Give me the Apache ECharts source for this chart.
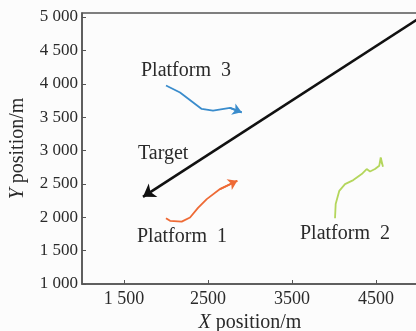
<!DOCTYPE html>
<html>
<head>
<meta charset="utf-8">
<script src="https://cdn.jsdelivr.net/npm/echarts@6/dist/echarts.min.js"></script>
<style>
  html, body { margin: 0; padding: 0; background: #fcfcfc; }
  #chart { width: 416px; height: 331px; }
</style>
</head>
<body>
<div id="chart"></div>
<script>
// Axis ticks and labels
const xTicks = [1500, 2500, 3500, 4500];
const xTickLabels = ['1 500', '2500', '3500', '4500'];
const yTicks = [1000, 1500, 2000, 2500, 3000, 3500, 4000, 4500, 5000];
const yTickLabels = ['1 000', '1 500', '2 000', '2 500', '3 000', '3 500', '4 000', '4 500', '5 000'];

// Target track (straight run, arrow at its end)
const targetTrack = [[5000, 4970], [1726, 2306]];

// Platform trajectories, [X, Y] in metres
const platform1 = [[2000, 1986], [2048, 1946], [2187, 1935], [2286, 1996], [2381, 2141],
                   [2485, 2272], [2643, 2422], [2849, 2547]];
const platform2 = [[4012, 1986], [4020, 2197], [4063, 2396], [4131, 2497], [4230, 2557],
                   [4330, 2647], [4389, 2722], [4429, 2686], [4488, 2722], [4539, 2772],
                   [4556, 2896], [4571, 2797], [4560, 2877], [4583, 2757]];
const platform3 = [[2000, 3973], [2167, 3868], [2425, 3623], [2560, 3598], [2762, 3638],
                   [2901, 3572]];

const FONT = 'Liberation Serif';
const TXT = '#2a2a2a';
const AX = '#555555';

function pathSeries(data, color, width) {
  return {
    type: 'line', data: data, showSymbol: false, symbol: 'none',
    lineStyle: { color: color, width: width }, silent: true, z: 3
  };
}
function arrowSeries(data, color, width, size) {
  const n = data.length;
  return {
    type: 'lines', coordinateSystem: 'cartesian2d',
    symbol: ['none', 'arrow'], symbolSize: size,
    lineStyle: { color: color, width: width, opacity: 1 },
    data: [{ coords: [data[n - 2], data[n - 1]] }], silent: true, z: 4
  };
}
function titleStyle() {
  return { fontFamily: FONT, fontSize: 20, color: TXT,
    rich: { i: { fontFamily: FONT, fontStyle: 'italic', fontSize: 20, color: TXT } } };
}
function note(text, left, top) {
  return { type: 'text', left: left, top: top,
    style: { text: text, font: '20px "Liberation Serif"', fill: TXT } };
}

const chart = echarts.init(document.getElementById('chart'));
chart.setOption({
  backgroundColor: '#fcfcfc',
  animation: false,
  grid: { left: 82, top: 13, right: -2, bottom: 47, containLabel: false, outerBoundsMode: 'none',
          show: true, borderColor: AX, borderWidth: 1.5 },
  xAxis: {
    type: 'value', min: 1000, max: 5000,
    name: '{i|X} position/m', nameLocation: 'middle', nameGap: 24,
    nameTextStyle: titleStyle(),
    axisLine: { show: true, lineStyle: { color: AX, width: 1.5 } },
    axisTick: { show: true, inside: true, length: 4, customValues: xTicks, lineStyle: { color: AX } },
    axisLabel: { customValues: xTicks, fontFamily: FONT, fontSize: 18, color: TXT, margin: 6,
      formatter: v => xTickLabels[xTicks.indexOf(v)] },
    splitLine: { show: false }
  },
  yAxis: {
    type: 'value', min: 1000, max: 5060,
    name: '{i|Y} position/m', nameLocation: 'middle', nameGap: 54, nameRotate: 90,
    nameTextStyle: titleStyle(),
    axisLine: { show: true, lineStyle: { color: AX, width: 1.5 } },
    axisTick: { show: true, inside: true, length: 4, customValues: yTicks, lineStyle: { color: AX } },
    axisLabel: { customValues: yTicks, fontFamily: FONT, fontSize: 17, color: TXT, margin: 4,
      formatter: v => yTickLabels[yTicks.indexOf(v)] },
    splitLine: { show: false }
  },
  graphic: [
    note('Platform  3', 141, 61),
    note('Target', 138, 144),
    note('Platform  1', 137, 227),
    note('Platform  2', 300, 224)
  ],
  series: [
    arrowSeries(targetTrack, '#111111', 2.6, 12),
    pathSeries(platform1, '#ee6a35', 1.8),
    arrowSeries(platform1, '#ee6a35', 1.8, 9),
    pathSeries(platform2, '#b4d65c', 1.8),
    pathSeries(platform3, '#3a8ccc', 1.8),
    arrowSeries(platform3, '#3a8ccc', 1.8, 9)
  ]
});
</script>
</body>
</html>
